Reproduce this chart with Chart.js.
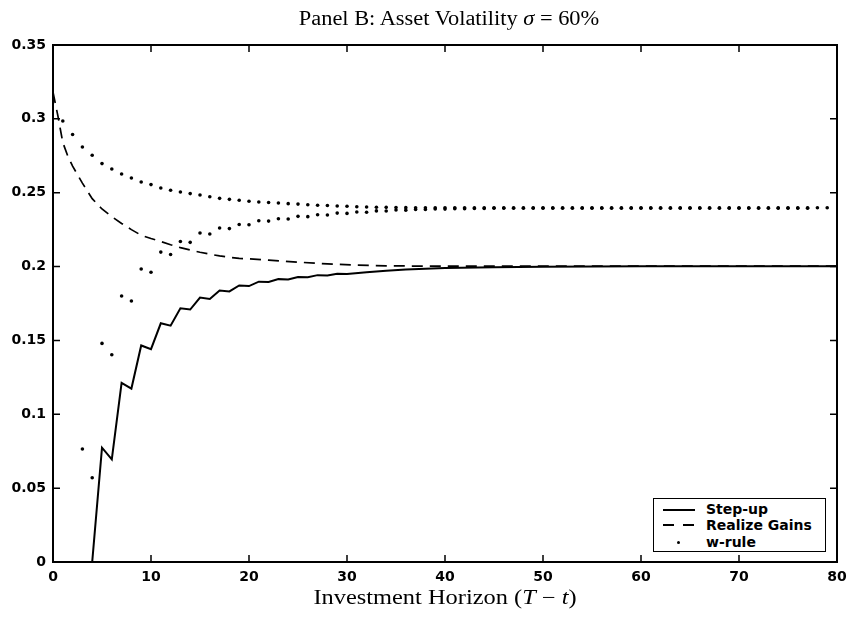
<!DOCTYPE html>
<html>
<head>
<meta charset="utf-8">
<title>Panel B: Asset Volatility</title>
<script src="https://cdn.jsdelivr.net/npm/chart.js@4.4.1/dist/chart.umd.min.js"></script>
<style>
  html, body { margin: 0; padding: 0; background: #fff; }
  #wrap { position: relative; width: 848px; height: 624px; }
  .serif { position: absolute; font-family: "Liberation Serif", serif; font-size: 20px; color: #000; white-space: nowrap; }
  #legendBox { position: absolute; left: 653px; top: 498px; width: 171px; height: 52px; border: 1.5px solid #000; background: #fff;
    font: bold 14px "DejaVu Sans", sans-serif; color: #000; }
  .row { position: absolute; left: 0; width: 100%; height: 16px; }
  .row .lbl { position: absolute; left: 52px; top: 0; line-height: 16px; white-space: nowrap; }
  .row .sample { position: absolute; left: 9px; width: 32px; top: 8px; height: 0; }
</style>
</head>
<body>
<div id="wrap">
  <canvas id="chart" width="848" height="624"></canvas>
  <div class="serif" style="left:449px; top:18px; transform: translate(-50%, -50%) scaleX(1.12);">Panel B: Asset Volatility <i>σ</i> = 60%</div>
  <div class="serif" style="left:445px; top:597px; transform: translate(-50%, -50%) scaleX(1.22);">Investment Horizon (<i>T</i> − <i>t</i>)</div>
  <div id="legendBox">
    <div class="row" style="top:2px;"><div class="sample" style="border-top:2px solid #000;"></div><span class="lbl">Step-up</span></div>
    <div class="row" style="top:18px;"><div class="sample" style="height:2px; top:7px; background:linear-gradient(to right, #000 0 11px, transparent 11px 20px, #000 20px 31px, transparent 31px);"></div><span class="lbl">Realize Gains</span></div>
    <div class="row" style="top:35px;"><div class="sample" style="left:23px; top:7px; width:3px; height:3px; border-radius:50%; background:#000;"></div><span class="lbl">w-rule</span></div>
  </div>
</div>
<script>
// axis ticks
const xTicks = [0, 10, 20, 30, 40, 50, 60, 70, 80];
const yTicks = [0, 0.05, 0.1, 0.15, 0.2, 0.25, 0.3, 0.35];

// Step-up (solid)
const stepX = [4, 5, 6, 7, 8, 9, 10, 11, 12, 13, 14, 15, 16, 17, 18, 19, 20, 21, 22, 23, 24, 25, 26, 27, 28, 29, 30,
  32, 34, 36, 38, 40, 45, 50, 60, 70, 80];
const stepY = [0, 0.0774, 0.0695, 0.1213, 0.1174, 0.1466, 0.1441, 0.1616, 0.1600, 0.1718, 0.1709, 0.1790, 0.1781,
  0.1838, 0.1832, 0.1872, 0.1868, 0.1898, 0.1895, 0.1915, 0.1912, 0.1930, 0.1928, 0.1942, 0.1940, 0.1952, 0.1950,
  0.1962, 0.1972, 0.1980, 0.1986, 0.1990, 0.1996, 0.1999, 0.2002, 0.2003, 0.2003];

// Realize Gains (dashed)
const gainsX = [0, 0.5, 1, 1.5, 2, 3, 4, 5, 6, 7, 8, 9, 10, 11, 12, 13, 14, 15, 16, 17, 18, 19, 20,
  22, 25, 28, 31, 34, 38, 45, 80];
const gainsY = [0.318, 0.302, 0.284, 0.275, 0.268, 0.2565, 0.2460, 0.2390, 0.2338, 0.2292, 0.2250, 0.2212, 0.2190,
  0.2170, 0.2148, 0.2128, 0.2112, 0.2097, 0.2084, 0.2072, 0.2063, 0.2056, 0.2052,
  0.2044, 0.2030, 0.2018, 0.2010, 0.2005, 0.2003, 0.2003, 0.2003];

// w-rule, upper branch (x = 1..79)
const wUpperY = [0.2985, 0.2894, 0.2809, 0.2754, 0.2697, 0.2661, 0.2627, 0.2600, 0.2573, 0.2555,
  0.2532, 0.2517, 0.2505, 0.2494, 0.2485, 0.2473, 0.2462, 0.2455, 0.2449, 0.2442,
  0.2437, 0.2434, 0.2430, 0.2426, 0.2423, 0.2419, 0.2415, 0.2413, 0.2410, 0.2408,
  0.2405, 0.2403, 0.2402, 0.2401, 0.2400, 0.2399, 0.2398, 0.2398, 0.2398, 0.2398,
  0.2398, 0.2398, 0.2398, 0.2398, 0.2398, 0.2398, 0.2398, 0.2398, 0.2398, 0.2398,
  0.2398, 0.2398, 0.2398, 0.2398, 0.2398, 0.2398, 0.2398, 0.2398, 0.2398, 0.2398,
  0.2398, 0.2398, 0.2398, 0.2398, 0.2398, 0.2398, 0.2398, 0.2398, 0.2398, 0.2398,
  0.2398, 0.2398, 0.2398, 0.2398, 0.2398, 0.2398, 0.2398, 0.2398, 0.2398];

// w-rule, lower branch (x = 3..79)
const wLowerY = [0.0765, 0.0570, 0.1480, 0.1403, 0.1801, 0.1767, 0.1984, 0.1962,
  0.2098, 0.2082, 0.2170, 0.2164, 0.2227, 0.2220, 0.2261, 0.2257, 0.2285, 0.2283,
  0.2310, 0.2308, 0.2324, 0.2322, 0.2340, 0.2338, 0.2351, 0.2349, 0.2362, 0.2360,
  0.2369, 0.2368, 0.2377, 0.2376, 0.2383, 0.2382, 0.2387, 0.2386, 0.2390, 0.2389,
  0.2392, 0.2391, 0.2393, 0.2393, 0.2395, 0.2395, 0.2395, 0.2395, 0.2395, 0.2395,
  0.2395, 0.2395, 0.2395, 0.2395, 0.2395, 0.2395, 0.2395, 0.2395, 0.2395, 0.2395,
  0.2395, 0.2395, 0.2395, 0.2395, 0.2395, 0.2395, 0.2395, 0.2395, 0.2395, 0.2395,
  0.2395, 0.2395, 0.2395, 0.2395, 0.2395, 0.2395, 0.2395];

const toPoints = (xs, ys) => ys.map((y, i) => ({ x: xs[i], y }));
const seq = (from, n) => Array.from({ length: n }, (_, i) => from + i);

// MATLAB style frame with inward ticks on all four sides
const frameTicks = {
  id: 'frameTicks',
  afterDatasetsDraw(chart) {
    const { ctx, chartArea: a, scales: { x, y } } = chart;
    const len = 7;
    ctx.save();
    ctx.strokeStyle = '#000';
    ctx.lineWidth = 1.5;
    ctx.beginPath();
    x.ticks.forEach((t) => {
      const px = x.getPixelForValue(t.value);
      ctx.moveTo(px, a.bottom); ctx.lineTo(px, a.bottom - len);
      ctx.moveTo(px, a.top); ctx.lineTo(px, a.top + len);
    });
    y.ticks.forEach((t) => {
      const py = y.getPixelForValue(t.value);
      ctx.moveTo(a.left, py); ctx.lineTo(a.left + len, py);
      ctx.moveTo(a.right, py); ctx.lineTo(a.right - len, py);
    });
    ctx.stroke();
    ctx.lineWidth = 2;
    ctx.strokeRect(a.left, a.top, a.right - a.left, a.bottom - a.top);
    ctx.restore();
  },
};

const tickFont = { family: '"DejaVu Sans", sans-serif', size: 14, weight: 'bold' };

new Chart(document.getElementById('chart'), {
  type: 'scatter',
  data: {
    datasets: [
      { label: 'Step-up', data: toPoints(stepX, stepY), showLine: true, borderColor: '#000', borderWidth: 2,
        pointRadius: 0, tension: 0 },
      { label: 'Realize Gains', data: toPoints(gainsX, gainsY), showLine: true, borderColor: '#000', borderWidth: 1.7,
        borderDash: [11, 7], pointRadius: 0, tension: 0 },
      { label: 'w-rule', data: toPoints(seq(1, wUpperY.length), wUpperY), showLine: false, pointRadius: 1.8,
        pointStyle: 'circle', backgroundColor: '#000', borderColor: '#000', borderWidth: 0 },
      { label: 'w-rule (lower)', data: toPoints(seq(3, wLowerY.length), wLowerY), showLine: false, pointRadius: 1.8,
        pointStyle: 'circle', backgroundColor: '#000', borderColor: '#000', borderWidth: 0 },
    ],
  },
  options: {
    responsive: false,
    animation: false,
    devicePixelRatio: 1,
    layout: { padding: { left: 0, right: 11, top: 45, bottom: 0 } },
    plugins: { legend: { display: false }, tooltip: { enabled: false } },
    scales: {
      x: {
        type: 'linear', min: 0, max: 80,
        afterBuildTicks: (s) => { s.ticks = xTicks.map((v) => ({ value: v })); },
        afterFit: (s) => { s.height = 62; s.paddingLeft = 0; s.paddingRight = 0; },
        grid: { display: false, drawTicks: false },
        border: { display: false },
        ticks: { font: tickFont, color: '#000', padding: 7, maxRotation: 0 },
      },
      y: {
        type: 'linear', min: 0, max: 0.35,
        afterBuildTicks: (s) => { s.ticks = yTicks.map((v) => ({ value: v })); },
        afterFit: (s) => { s.width = 53; },
        grid: { display: false, drawTicks: false },
        border: { display: false },
        ticks: { font: tickFont, color: '#000', padding: 7, callback: (v) => String(Number(v.toFixed(2))) },
      },
    },
  },
  plugins: [frameTicks],
});
</script>
</body>
</html>
